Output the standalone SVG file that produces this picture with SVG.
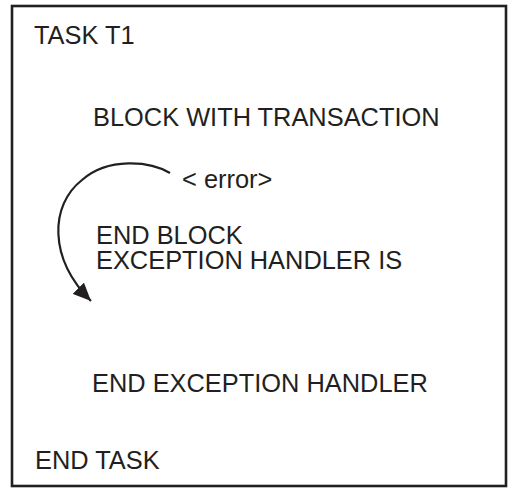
<svg xmlns="http://www.w3.org/2000/svg" width="508" height="489" viewBox="0 0 508 489">
  <style>
    .t { font-family: "Liberation Sans", Arial, sans-serif; font-size: 25.4px; fill: #231f20; }
    .frame { fill: #ffffff; stroke: #231f20; stroke-width: 2.6; }
    .conn { fill: none; stroke: #231f20; stroke-width: 2.2; }
  </style>
  <defs>
    <marker id="arrow" markerUnits="userSpaceOnUse" markerWidth="20" markerHeight="16" refX="18" refY="8" orient="auto">
      <path d="M0,0 L18,8 L0,16 z" fill="#231f20"/>
    </marker>
  </defs>
  <rect width="508" height="489" fill="#ffffff"/>
  <g id="task">
    <rect class="frame" x="12" y="6" width="494" height="480"/>
    <text class="t" x="34" y="44">TASK T1</text>
    <text class="t" x="35" y="469">END TASK</text>
  </g>
  <g id="block">
    <text class="t" x="93" y="126">BLOCK WITH TRANSACTION</text>
  </g>
  <g id="handler">
    <text class="t"><tspan x="96" y="244">END BLOCK</tspan><tspan x="96" y="269">EXCEPTION HANDLER IS</tspan></text>
    <text class="t" x="92" y="392">END EXCEPTION HANDLER</text>
  </g>
  <g id="connectors">
    <path class="conn" d="M 170 173 C 150 161, 108 157, 82 180 C 50 205, 48 258, 91 301" marker-end="url(#arrow)"/>
    <text class="t" x="182" y="188">&lt; error&gt;</text>
  </g>
</svg>
